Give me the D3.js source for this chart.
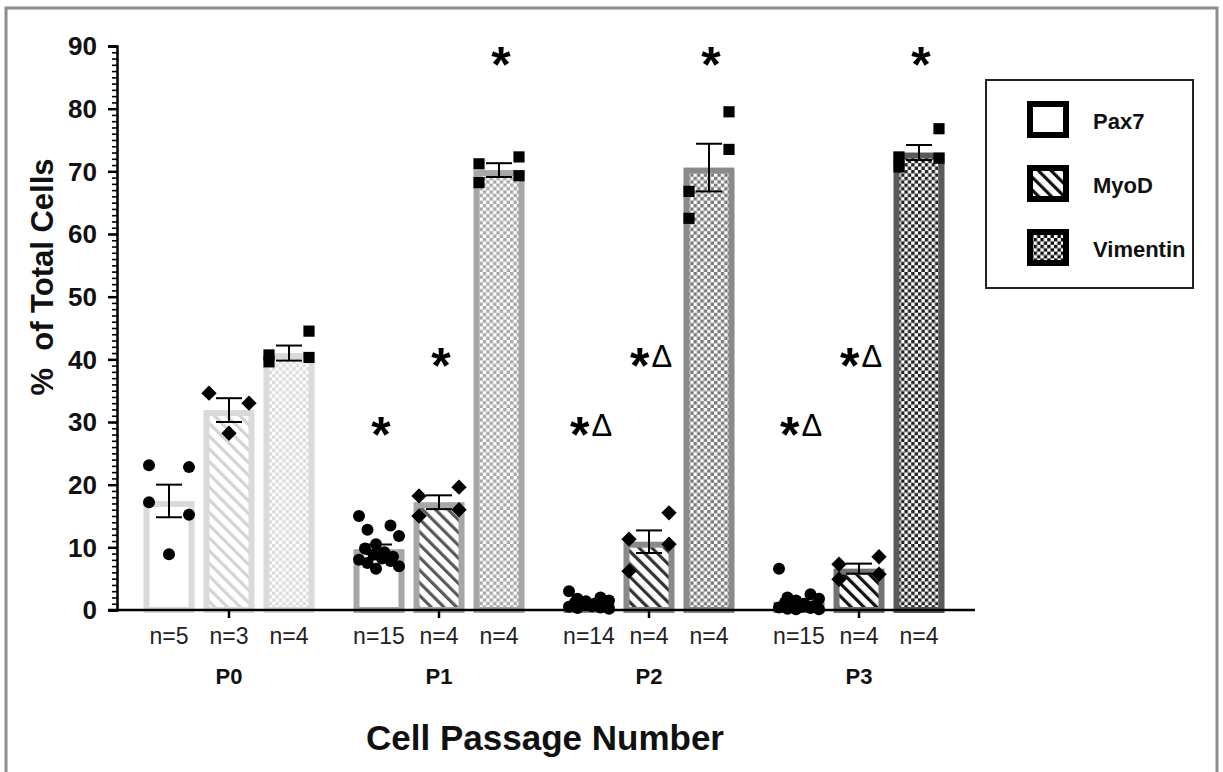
<!DOCTYPE html>
<html>
<head>
<meta charset="utf-8">
<script src="https://cdn.jsdelivr.net/npm/d3@7"></script>
<style>
  body { margin: 0; background: #fff; }
  svg { display: block; font-family: Arial, "Liberation Sans", sans-serif; }
</style>
</head>
<body>
<svg id="chart"></svg>
<script>
// ---- data ----
const passages = ["P0", "P1", "P2", "P3"];
const markers = ["Pax7", "MyoD", "Vimentin"];

const pax7Mean = [17.4, 9.7, 1.0, 1.3];
const pax7Sem = [2.6, 0.75, 0.25, 0.45];
const myodMean = [31.9, 17.2, 10.9, 6.6];
const myodSem = [1.9, 1.1, 1.8, 0.8];
const vimMean = [41.0, 70.2, 70.6, 73.0];
const vimSem = [1.2, 1.1, 3.8, 1.2];

const pax7Points = [
  [23.1, 22.8, 17.2, 15.2, 8.9],
  [15.0, 13.5, 12.8, 11.8, 10.5, 9.8, 9.2, 8.8, 8.5, 8.2, 8.0, 7.8, 7.5, 7.0, 6.6],
  [3.0, 2.0, 1.8, 1.5, 1.4, 1.2, 1.0, 0.9, 0.8, 0.6, 0.5, 0.4, 0.3, 0.2],
  [6.6, 2.5, 2.0, 1.8, 1.5, 1.2, 1.0, 0.8, 0.6, 0.5, 0.4, 0.3, 0.2, 0.1, 0.1]
];
const myodPoints = [
  [34.6, 33.0, 28.2],
  [18.2, 19.6, 15.0, 16.0],
  [11.3, 15.5, 6.2, 10.5],
  [4.9, 8.5, 7.3, 5.7]
];
const vimPoints = [
  [40.7, 44.5, 39.6, 40.3],
  [71.2, 72.3, 68.2, 69.3],
  [66.8, 79.5, 62.5, 73.5],
  [70.7, 76.8, 72.3, 72.1]
];

const sigLabels = [
  ["", "", ""],
  ["*", "*", "*"],
  ["*Δ", "*Δ", "*"],
  ["*Δ", "*Δ", "*"]
];
const sigLevel = [29.6, 40.6, 88.6];

const yTicks = [0, 10, 20, 30, 40, 50, 60, 70, 80, 90];

// ---- styles ----
const strokeCol = [["#dadada", "#dadada", "#dadada"],
                   ["#a6a6a6", "#a6a6a6", "#a6a6a6"],
                   ["#8a8a8a", "#8a8a8a", "#8a8a8a"],
                   ["#737373", "#737373", "#5a5a5a"]];
const inkCol = [["#fff", "#d4d4d4", "#dcdcdc"],
                ["#fff", "#5a5a5a", "#a8a8a8"],
                ["#fff", "#333", "#7a7a7a"],
                ["#fff", "#111", "#222"]];

const width = 1223, height = 772;
const margin = {top: 46, left: 117, bottom: 162};

const svg = d3.select("#chart").attr("width", width).attr("height", height);

// outer frame
svg.append("rect")
   .attr("x", 6).attr("y", 8)
   .attr("width", 1211).attr("height", 800)
   .attr("fill", "none").attr("stroke", "#8c8c8c").attr("stroke-width", 3);

const y = d3.scaleLinear().domain([0, 90]).range([height - margin.bottom, margin.top]);

const x0 = d3.scaleBand().domain(passages).range([124, 964]);
const x1 = d3.scaleBand().domain(markers).range([15, 195])
             .paddingInner(0.15).paddingOuter(0.075);

const defs = svg.append("defs");

function makePattern(id, kind, ink){
  if (kind === 0) return null;
  if (kind === 1){
    const p = defs.append("pattern").attr("id", id)
      .attr("patternUnits", "userSpaceOnUse")
      .attr("width", 9).attr("height", 9)
      .attr("patternTransform", "rotate(-45)");
    p.append("rect").attr("width", 9).attr("height", 9).attr("fill", "#fff");
    p.append("rect").attr("width", 3.2).attr("height", 9).attr("fill", ink);
  } else {
    const s = 3.4;
    const p = defs.append("pattern").attr("id", id)
      .attr("patternUnits", "userSpaceOnUse")
      .attr("width", 2 * s).attr("height", 2 * s);
    p.append("rect").attr("width", 2 * s).attr("height", 2 * s).attr("fill", "#fff");
    p.append("rect").attr("width", s).attr("height", s).attr("fill", ink);
    p.append("rect").attr("x", s).attr("y", s).attr("width", s).attr("height", s).attr("fill", ink);
  }
}

passages.forEach((p, pi) => {
  markers.forEach((m, mi) => makePattern("pat-" + pi + "-" + mi, mi, inkCol[pi][mi]));
});
makePattern("leg-1", 1, "#111");
makePattern("leg-2", 2, "#111");

// table built from the arrays
const means = [pax7Mean, myodMean, vimMean];
const sems = [pax7Sem, myodSem, vimSem];
const pts = [pax7Points, myodPoints, vimPoints];
const rows = [];
passages.forEach((p, pi) => {
  markers.forEach((m, mi) => {
    rows.push({passage: p, pi: pi, marker: m, mi: mi,
               mean: means[mi][pi], sem: sems[mi][pi], points: pts[mi][pi],
               sig: sigLabels[pi][mi]});
  });
});

const g = svg.append("g");
const sw = 6;

// bars
g.selectAll("rect.bar")
 .data(rows)
 .enter()
 .append("rect")
 .attr("class", "bar")
 .attr("x", d => x0(d.passage) + x1(d.marker) + sw / 2)
 .attr("width", x1.bandwidth() - sw)
 .attr("y", d => y(d.mean) + sw / 2)
 .attr("height", d => y(0) - y(d.mean) - sw / 2)
 .attr("fill", d => d.mi === 0 ? "#fff" : "url(#pat-" + d.pi + "-" + d.mi + ")")
 .attr("stroke", d => strokeCol[d.pi][d.mi])
 .attr("stroke-width", sw);

// scatter points
function jitter(i, n){
  if (n <= 5){
    if (n % 2 === 1 && i === n - 1) return 0;
    return i % 2 === 0 ? -20 : 20;
  }
  return ((i * 3) % 5 - 2) * 8.5 + ((i % 2) ? 3 : -3);
}

const diamond = d3.symbol().type(d3.symbolDiamond2).size(150);
const square = d3.symbol().type(d3.symbolSquare).size(125);

rows.forEach(d => {
  const cx = x0(d.passage) + x1(d.marker) + x1.bandwidth() / 2;
  d.points.forEach((v, i) => {
    const px = cx + jitter(i, d.points.length);
    if (d.mi === 0){
      g.append("circle").attr("cx", px).attr("cy", y(v)).attr("r", 6).attr("fill", "#000");
    } else {
      g.append("path")
       .attr("d", d.mi === 1 ? diamond() : square())
       .attr("transform", "translate(" + px + "," + y(v) + ")")
       .attr("fill", "#000");
    }
  });
});

// error bars
const eb = g.selectAll("g.err").data(rows).enter().append("g").attr("class", "err")
  .attr("stroke", "#000").attr("stroke-width", 2);
const cxOf = d => x0(d.passage) + x1(d.marker) + x1.bandwidth() / 2;
eb.append("line")
  .attr("x1", cxOf).attr("x2", cxOf)
  .attr("y1", d => y(d.mean - d.sem)).attr("y2", d => y(d.mean + d.sem));
eb.append("line")
  .attr("x1", d => cxOf(d) - 13).attr("x2", d => cxOf(d) + 13)
  .attr("y1", d => y(d.mean + d.sem)).attr("y2", d => y(d.mean + d.sem));
eb.append("line")
  .attr("x1", d => cxOf(d) - 13).attr("x2", d => cxOf(d) + 13)
  .attr("y1", d => y(d.mean - d.sem)).attr("y2", d => y(d.mean - d.sem));

// significance marks
const sig = g.selectAll("text.sig").data(rows.filter(d => d.sig !== "")).enter()
  .append("text")
  .attr("class", "sig")
  .attr("x", d => cxOf(d) + 2)
  .attr("y", d => y(sigLevel[d.mi]) + 27)
  .attr("text-anchor", "middle");
sig.append("tspan")
   .attr("font-size", 50).attr("font-weight", "bold")
   .text("*");
sig.filter(d => d.sig.length > 1)
   .append("tspan")
   .attr("font-size", 31)
   .attr("dx", 2)
   .attr("dy", -16)
   .text("Δ");

// axes
const yAxis = d3.axisLeft(y).tickValues(yTicks).tickSize(9).tickPadding(11);
const yMinor = d3.axisLeft(y).tickValues(d3.range(0, 91, 1)).tickSize(5).tickFormat("");

svg.append("g")
   .attr("transform", "translate(" + margin.left + ",0)")
   .call(yMinor)
   .call(a => a.select(".domain").remove())
   .call(a => a.selectAll("line").attr("stroke-width", 1.6));

svg.append("g")
   .attr("id", "y-axis")
   .attr("transform", "translate(" + margin.left + ",0)")
   .call(yAxis)
   .call(a => a.select(".domain").attr("stroke-width", 2.5))
   .call(a => a.selectAll("line").attr("stroke-width", 2.5))
   .call(a => a.selectAll("text").attr("font-size", 26).attr("font-weight", "bold")
                .attr("fill", "#111").attr("dy", "0.34em")
                .attr("font-family", "Arial, 'Liberation Sans', sans-serif"));

// x axis
svg.append("line")
   .attr("x1", 108).attr("x2", 975)
   .attr("y1", y(0)).attr("y2", y(0))
   .attr("stroke", "#000").attr("stroke-width", 2.5);
svg.selectAll("line.xt").data(passages).enter().append("line")
   .attr("class", "xt")
   .attr("x1", d => x0(d) + x0.bandwidth() / 2).attr("x2", d => x0(d) + x0.bandwidth() / 2)
   .attr("y1", y(0)).attr("y2", y(0) + 8)
   .attr("stroke", "#000").attr("stroke-width", 2.5);

// n labels
svg.selectAll("text.n").data(rows).enter().append("text")
   .attr("class", "n")
   .attr("x", cxOf)
   .attr("y", 644)
   .attr("text-anchor", "middle")
   .attr("font-size", 23)
   .attr("fill", "#222")
   .text(d => "n=" + d.points.length);

svg.selectAll("text.pl").data(passages).enter().append("text")
   .attr("class", "pl")
   .attr("x", d => x0(d) + x0.bandwidth() / 2)
   .attr("y", 684)
   .attr("text-anchor", "middle")
   .attr("font-size", 22)
   .attr("font-weight", "bold")
   .attr("fill", "#111")
   .text(d => d);

// axis titles
svg.append("text")
   .attr("x", 545).attr("y", 750)
   .attr("text-anchor", "middle")
   .attr("font-size", 35).attr("font-weight", "bold").attr("fill", "#111")
   .text("Cell Passage Number");

svg.append("text")
   .attr("transform", "translate(53,277) rotate(-90)")
   .attr("text-anchor", "middle")
   .attr("font-size", 31).attr("font-weight", "bold").attr("fill", "#111")
   .attr("xml:space", "preserve")
   .style("white-space", "pre")
   .text("%  of Total Cells");

// legend
const legend = svg.append("g").attr("id", "legend");
legend.append("rect")
      .attr("x", 986).attr("y", 80).attr("width", 207).attr("height", 208)
      .attr("fill", "#fff").attr("stroke", "#222").attr("stroke-width", 2);
markers.forEach((m, i) => {
  const ly = 101 + i * 64;
  legend.append("rect")
        .attr("x", 1030).attr("y", ly + 3)
        .attr("width", 36).attr("height", 31)
        .attr("fill", i === 0 ? "#fff" : "url(#leg-" + i + ")")
        .attr("stroke", "#000").attr("stroke-width", 6);
  legend.append("text")
        .attr("x", 1093).attr("y", ly + 28)
        .attr("font-size", 22).attr("font-weight", "bold").attr("fill", "#111")
        .text(m);
});
</script>
</body>
</html>
